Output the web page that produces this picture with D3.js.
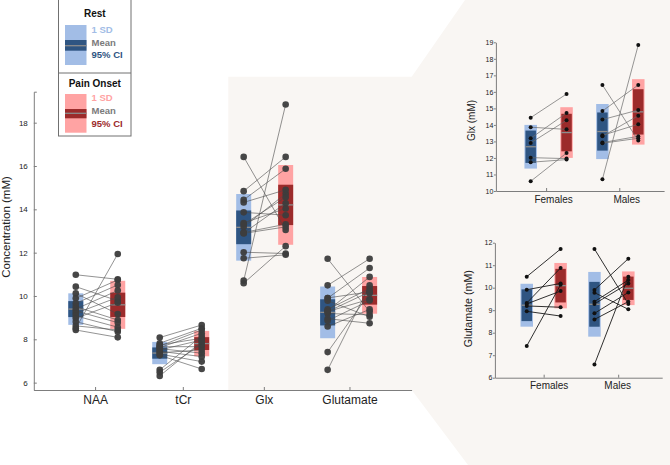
<!DOCTYPE html>
<html><head><meta charset="utf-8">
<script src="https://cdn.jsdelivr.net/npm/d3@7/dist/d3.min.js"></script>
<style>
body{margin:0;background:#fff}
svg{display:block;font-family:"Liberation Sans",Arial,Helvetica,sans-serif}
</style>
</head><body>
<svg id="c" width="670" height="465"></svg>
<script>
// ---------------- DATA ----------------
const metabolites = ["NAA", "tCr", "Glx", "Glutamate"];
const sexes = ["Females", "Males"];
const legendTitles = ["Rest", "Pain Onset"];
const legendItems = ["1 SD", "Mean", "95% CI"];

// paired subject values (rest[i] -> pain[i])
const naaRest = [10.98, 10.43, 10.12, 9.89, 9.66, 9.51, 9.40, 9.31, 9.20, 9.08, 8.97, 8.81, 8.62, 8.51, 8.43];
const naaPain = [10.77, 9.78, 9.17, 10.74, 10.51, 8.89, 10.25, 8.77, 9.94, 8.56, 9.69, 8.35, 8.43, 11.94, 8.09];
const tcrRest = [8.08, 7.82, 7.74, 7.69, 7.66, 7.62, 7.57, 7.51, 7.45, 7.38, 7.32, 7.26, 6.59, 6.48, 6.31];
const tcrPain = [8.66, 8.51, 8.05, 8.43, 7.66, 8.28, 7.36, 7.97, 7.20, 7.51, 6.97, 6.63, 8.15, 7.78, 7.89];

const glxRestF = [14.44, 13.86, 13.19, 12.91, 12.02, 11.74, 10.59];
const glxPainF = [15.87, 13.73, 14.72, 14.28, 11.96, 11.90, 12.30];
const glxRestM = [16.42, 14.84, 14.32, 13.37, 13.31, 12.93, 12.89, 10.71];
const glxPainM = [13.05, 16.42, 14.90, 14.04, 14.56, 13.31, 13.19, 18.84];

const gluRestF = [10.49, 9.91, 9.32, 9.28, 9.19, 8.95, 7.41];
const gluPainF = [11.72, 10.19, 10.88, 9.85, 9.13, 8.74, 10.13];
const gluRestM = [11.72, 9.90, 9.78, 9.38, 9.28, 8.86, 8.59, 6.59];
const gluPainM = [9.28, 11.29, 9.04, 10.34, 10.19, 9.79, 9.38, 10.49];

const mainTicks = [6, 8, 10, 12, 14, 16, 18];
const glxTicks = [10, 11, 12, 13, 14, 15, 16, 17, 18, 19];
const gluTicks = [6, 7, 8, 9, 10, 11, 12];

// ---------------- STYLE ----------------
const COL = {
  rest: {light: "#a2bde6", dark: "#2f5582", text: "#2f5582"},
  pain: {light: "#ffa3a3", dark: "#9c2b2b", text: "#9c2b2b"},
  mean: "#8d8d8d", axis: "#7d7d7d", beige: "#f9f6f3"
};
const FONT = '"Liberation Sans",Arial,Helvetica,sans-serif';
const fmtInt = d3.format("d");

function stats(a) {
  const m = d3.mean(a), sd = d3.deviation(a);
  return {m, sd, ci: 1.96 * sd / Math.sqrt(a.length)};
}

const svg = d3.select("#c");

// background zoom callout shape
svg.append("path")
  .attr("d", "M228.3,76.7 L411.7,76.7 L465,0 L670,0 L670,465 L468,465 L411.7,390 L228.3,390 Z")
  .attr("fill", COL.beige);

// generic paired panel
function drawPaired(g, x, y, groups, o) {
  groups.forEach(gr => {
    const xr = x(gr.slot), xp = x(gr.slot + 1);
    [[gr.rest, xr, COL.rest], [gr.pain, xp, COL.pain]].forEach(([vals, cx, c]) => {
      const s = stats(vals);
      g.append("rect").attr("x", cx - o.w / 2).attr("width", o.w)
        .attr("y", y(s.m + s.sd)).attr("height", y(s.m - s.sd) - y(s.m + s.sd))
        .attr("fill", c.light);
      g.append("rect").attr("x", cx - o.wIn / 2).attr("width", o.wIn)
        .attr("y", y(s.m + s.ci)).attr("height", y(s.m - s.ci) - y(s.m + s.ci))
        .attr("fill", c.dark);
      g.append("line").attr("x1", cx - o.wIn / 2).attr("x2", cx + o.wIn / 2)
        .attr("y1", y(s.m)).attr("y2", y(s.m))
        .attr("stroke", COL.mean).attr("stroke-width", 1.3);
    });
    gr.rest.forEach((v, i) => {
      g.append("line").attr("x1", xr).attr("y1", y(v)).attr("x2", xp).attr("y2", y(gr.pain[i]))
        .attr("stroke", o.lineColor).attr("stroke-width", o.lineWidth);
    });
    [[gr.rest, xr], [gr.pain, xp]].forEach(([vals, cx]) => {
      vals.forEach(v => g.append("circle").attr("cx", cx).attr("cy", y(v)).attr("r", o.r)
        .attr("fill", o.dot).attr("fill-opacity", o.dotOpacity));
    });
  });
}

function styleAxis(a) {
  a.selectAll("path,line").attr("stroke", COL.axis).attr("stroke-width", 1);
  a.selectAll("text").attr("fill", "#222").attr("font-family", FONT);
}

// ---------------- MAIN PANEL ----------------
const xMain = d3.scaleLinear().domain([-1, 8]).range([33.8, 411.6]);
const yMain = d3.scaleLinear().domain([5.66, 19.43]).range([390, 91.7]);
const gMain = svg.append("g");
drawPaired(gMain, xMain, yMain, [
  {slot: 0, rest: naaRest, pain: naaPain},
  {slot: 2, rest: tcrRest, pain: tcrPain},
  {slot: 4, rest: glxRestF.concat(glxRestM), pain: glxPainF.concat(glxPainM)},
  {slot: 6, rest: gluRestF.concat(gluRestM), pain: gluPainF.concat(gluPainM)}
], {w: 15, wIn: 15, r: 3.3, dot: "#3d3d3d", dotOpacity: 0.95, lineColor: "#4a4a4a", lineWidth: 0.6});

const mainTickSlots = [0.46, 2.55, 4.48, 6.52];
const axY = svg.append("g").attr("transform", "translate(33.8,0)")
  .call(d3.axisLeft(yMain).tickValues(mainTicks).tickFormat(fmtInt)
    .tickSizeInner(-3).tickSizeOuter(-3).tickPadding(6));
styleAxis(axY);
axY.selectAll("text").attr("font-size", 8);
const axX = svg.append("g").attr("transform", "translate(0,390)")
  .call(d3.axisBottom(xMain).tickValues(mainTickSlots).tickFormat((d, i) => metabolites[i])
    .tickSizeInner(-3).tickSizeOuter(0).tickPadding(5));
styleAxis(axX);
axX.selectAll("text").attr("font-size", 12);

svg.append("text").attr("transform", "translate(10,227) rotate(-90)")
  .attr("text-anchor", "middle").attr("font-size", 11.5).attr("fill", "#222")
  .text("Concentration (mM)");

// ---------------- SUB PANELS ----------------
function subPanel(cfg) {
  const x = d3.scaleLinear().domain(cfg.xDomain).range(cfg.xRange);
  const y = d3.scaleLinear().domain([cfg.ticks[0], cfg.ticks[cfg.ticks.length - 1]]).range(cfg.yRange);
  const g = svg.append("g");
  drawPaired(g, x, y, [
    {slot: 0, rest: cfg.restF, pain: cfg.painF},
    {slot: 2, rest: cfg.restM, pain: cfg.painM}
  ], {w: 12.5, wIn: 10.5, r: 2, dot: "#111", dotOpacity: 1, lineColor: cfg.lineColor, lineWidth: cfg.lineWidth});
  const ay = svg.append("g").attr("transform", `translate(${cfg.xRange[0]},0)`)
    .call(d3.axisLeft(y).tickValues(cfg.ticks).tickFormat(fmtInt)
      .tickSizeInner(2).tickSizeOuter(0).tickPadding(0.5));
  styleAxis(ay);
  ay.selectAll("text").attr("font-size", 7);
  const ax = svg.append("g").attr("transform", `translate(0,${cfg.yRange[0]})`)
    .call(d3.axisBottom(x).tickValues(cfg.tickSlots).tickFormat((d, i) => sexes[i])
      .tickSizeInner(-3).tickSizeOuter(0).tickPadding(cfg.pad));
  styleAxis(ax);
  ax.selectAll("text").attr("font-size", 10).attr("dx", (d, i) => cfg.labelDx[i]);
  svg.append("text").attr("transform", `translate(${cfg.labX},${cfg.labY}) rotate(-90)`)
    .attr("text-anchor", "middle").attr("font-size", cfg.labSize).attr("fill", "#222")
    .text(cfg.label);
}

subPanel({
  restF: glxRestF, painF: glxPainF, restM: glxRestM, painM: glxPainM,
  ticks: glxTicks, xDomain: [-0.97, 3.72], xRange: [495.9, 664.1], yRange: [191, 42.3],
  tickSlots: [0.43, 2.47], labelDx: [7, 7], pad: 5,
  lineColor: "#6a6a6a", lineWidth: 0.7,
  label: "Glx (mM)", labX: 474.5, labY: 120.5, labSize: 10
});
subPanel({
  restF: gluRestF, painF: gluPainF, restM: gluRestM, painM: gluPainM,
  ticks: gluTicks, xDomain: [-0.94, 4.0], xRange: [494.9, 662.2], yRange: [377.7, 242.7],
  tickSlots: [0.5, 2.7], labelDx: [5, -1], pad: 4.5,
  lineColor: "#1a1a1a", lineWidth: 0.9,
  label: "Glutamate (mM)", labX: 471.5, labY: 308.7, labSize: 10.7
});

// ---------------- LEGEND ----------------
const lg = svg.append("g");
lg.append("rect").attr("x", 58.5).attr("y", -1).attr("width", 72.5).attr("height", 137)
  .attr("fill", "#fff").attr("stroke", "#707070").attr("stroke-width", 1);
lg.append("line").attr("x1", 58.5).attr("x2", 131).attr("y1", 73).attr("y2", 73)
  .attr("stroke", "#707070").attr("stroke-width", 1);
[
  {c: COL.rest, top: 25, bot: 65, dTop: 40, dBot: 50.7, mean: 45.7, title: 16.9, items: [29.3, 42.7, 55]},
  {c: COL.pain, top: 94, bot: 132.7, dTop: 109, dBot: 118.3, mean: 113.3, title: 86.8, items: [97.7, 110.7, 123.3]}
].forEach((L, k) => {
  lg.append("text").attr("x", 94.8).attr("y", L.title).attr("text-anchor", "middle")
    .attr("font-size", 10).attr("font-weight", "bold").attr("fill", "#111").text(legendTitles[k]);
  lg.append("rect").attr("x", 65).attr("width", 21.5).attr("y", L.top).attr("height", L.bot - L.top).attr("fill", L.c.light);
  lg.append("rect").attr("x", 65).attr("width", 21.5).attr("y", L.dTop).attr("height", L.dBot - L.dTop).attr("fill", L.c.dark);
  lg.append("line").attr("x1", 65).attr("x2", 86.5).attr("y1", L.mean).attr("y2", L.mean)
    .attr("stroke", COL.mean).attr("stroke-width", 1.3);
  const cols = [L.c.light, "#7b7b7b", L.c.text];
  legendItems.forEach((t, i) => {
    lg.append("text").attr("x", 91.5).attr("y", L.items[i] + 3.4).attr("font-size", 9.5)
      .attr("font-weight", "bold").attr("fill", cols[i]).text(t);
  });
});
</script>
</body></html>
